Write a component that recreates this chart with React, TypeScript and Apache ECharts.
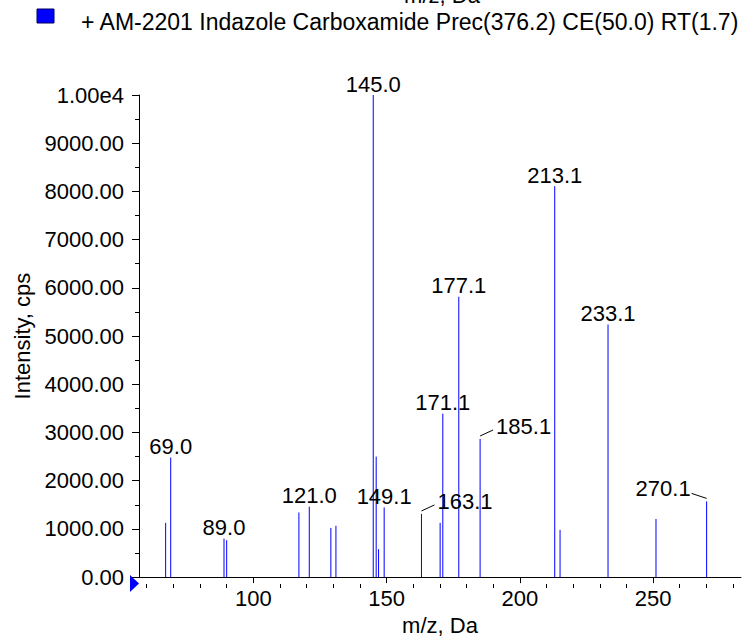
import React, { useEffect, useRef } from "react";
import * as echarts from "echarts";

// ---- data ----
const peakMz = [67.1, 69.0, 89.0, 90.0, 117.1, 121.0, 129.1, 131.0, 145.0, 146.1, 147.0, 149.1, 163.1, 170.1, 171.1, 177.1, 185.1, 213.1, 215.1, 233.1, 251.1, 270.1];
const peakIntensity = [1125, 2480, 800, 765, 1340, 1460, 1020, 1065, 10000, 2500, 580, 1445, 1310, 1125, 3390, 5815, 2865, 8110, 980, 5240, 1206, 1570];
const labeledPeaks = ["69.0", "89.0", "121.0", "145.0", "149.1", "163.1", "171.1", "177.1", "185.1", "213.1", "233.1", "270.1"];
const xLabelValues = [100, 150, 200, 250];
const xMinorTickValues = [60, 70, 80, 90, 110, 120, 130, 140, 160, 170, 180, 190, 210, 220, 230, 240, 260, 270, 280];
const yMax = 10000;
const legendText = "+ AM-2201 Indazole Carboxamide Prec(376.2) CE(50.0) RT(1.7)";
const xAxisTitle = "m/z, Da";
const yAxisTitle = "Intensity, cps";

// label placement style (not data)
const labelSide: Record<string, string> = { "163.1": "right", "185.1": "right", "270.1": "left" };

const FONT = "'Liberation Sans', Arial, Helvetica, sans-serif";
const BLUE = "#0000ff";

export default function App() {
  const ref = useRef<HTMLDivElement>(null);

  useEffect(() => {
    document.body.style.margin = "0";
    if (!ref.current) return;
    const chart = echarts.init(ref.current, undefined, { renderer: "svg" });

    const peakData = peakMz.map((m, i) => [m, peakIntensity[i]]);
    const labelData: number[][] = [];
    const labelTexts: string[] = [];
    labeledPeaks.forEach((t) => {
      const idx = peakMz.findIndex((m) => m.toFixed(1) === t);
      if (idx >= 0) {
        labelData.push([peakMz[idx], peakIntensity[idx]]);
        labelTexts.push(t);
      }
    });

    const grid = { left: 139, top: 95, right: 1, bottom: 57 };
    const xMin = 57.1;
    const xMax = 283;

    const option: any = {
      animation: false,
      grid: [grid, { ...grid }],
      xAxis: [
        {
          type: "value",
          gridIndex: 0,
          min: xMin,
          max: xMax,
          position: "bottom",
          axisLine: { show: true, lineStyle: { color: "#000", width: 1 } },
          axisTick: { show: true, customValues: xLabelValues, length: 6, lineStyle: { color: "#000" } },
          axisLabel: { customValues: xLabelValues, color: "#000", fontSize: 22, fontFamily: FONT, margin: 10 },
          splitLine: { show: false },
          name: xAxisTitle,
          nameLocation: "middle",
          nameGap: 31,
          nameTextStyle: { color: "#000", fontSize: 22, fontFamily: FONT },
        },
        {
          type: "value",
          gridIndex: 1,
          min: xMin,
          max: xMax,
          position: "bottom",
          axisLine: { show: false },
          axisTick: { show: true, customValues: xMinorTickValues, length: 4, lineStyle: { color: "#000" } },
          axisLabel: { show: false },
          splitLine: { show: false },
        },
      ],
      yAxis: [
        {
          type: "value",
          gridIndex: 0,
          min: 0,
          max: yMax,
          interval: 1000,
          axisLine: { show: true, lineStyle: { color: "#000", width: 1 } },
          axisTick: { show: true, length: 7, lineStyle: { color: "#000" } },
          minorTick: { show: true, splitNumber: 2, length: 4, lineStyle: { color: "#000" } },
          axisLabel: {
            color: "#000",
            fontSize: 22,
            fontFamily: FONT,
            margin: 15,
            formatter: (v: number) => (v === 10000 ? "1.00e4" : v.toFixed(2)),
          },
          splitLine: { show: false },
          name: yAxisTitle,
          nameLocation: "middle",
          nameGap: 103,
          nameTextStyle: { color: "#000", fontSize: 22, fontFamily: FONT },
        },
        {
          type: "value",
          gridIndex: 1,
          min: 0,
          max: yMax,
          show: false,
        },
      ],
      series: [
        {
          type: "custom",
          xAxisIndex: 0,
          yAxisIndex: 0,
          silent: true,
          data: peakData,
          renderItem: (params: any, api: any) => {
            const x = api.value(0);
            const y = api.value(1);
            const top = api.coord([x, y]);
            const base = api.coord([x, 0]);
            return {
              type: "line",
              shape: { x1: top[0], y1: top[1], x2: base[0], y2: base[1] },
              style: { stroke: BLUE, lineWidth: 1 },
            };
          },
        },
        {
          type: "custom",
          xAxisIndex: 0,
          yAxisIndex: 0,
          silent: true,
          data: labelData,
          renderItem: (params: any, api: any) => {
            const x = api.value(0);
            const y = api.value(1);
            const p = api.coord([x, y]);
            const text = labelTexts[params.dataIndex];
            const side = labelSide[text] || "top";
            const textStyle = { fontSize: 22, fontFamily: FONT, fill: "#000" };
            if (side === "right") {
              return {
                type: "group",
                children: [
                  { type: "line", shape: { x1: p[0], y1: p[1] - 3, x2: p[0] + 13, y2: p[1] - 9 }, style: { stroke: "#000", lineWidth: 1 } },
                  { type: "text", x: p[0] + 16, y: p[1] - 12, style: { ...textStyle, text, align: "left", verticalAlign: "middle" } },
                ],
              };
            }
            if (side === "left") {
              return {
                type: "group",
                children: [
                  { type: "line", shape: { x1: p[0], y1: p[1] - 3, x2: p[0] - 15, y2: p[1] - 8 }, style: { stroke: "#000", lineWidth: 1 } },
                  { type: "text", x: p[0] - 16, y: p[1] - 13, style: { ...textStyle, text, align: "right", verticalAlign: "middle" } },
                ],
              };
            }
            return {
              type: "text",
              x: p[0],
              y: p[1],
              style: { ...textStyle, text, align: "center", verticalAlign: "bottom" },
            };
          },
        },
      ],
      graphic: [
        {
          type: "text",
          x: 442,
          y: -5,
          silent: true,
          style: { text: xAxisTitle, fontSize: 22, fontFamily: FONT, fill: "#000", align: "center", verticalAlign: "middle" },
        },
        {
          type: "rect",
          x: 37,
          y: 9,
          silent: true,
          shape: { width: 17, height: 14 },
          style: { fill: BLUE, stroke: "#000060", lineWidth: 1 },
        },
        {
          type: "text",
          x: 81,
          y: 22,
          silent: true,
          style: { text: legendText, fontSize: 23, fontFamily: FONT, fill: "#000", align: "left", verticalAlign: "middle" },
        },
        {
          type: "polygon",
          silent: true,
          shape: { points: [[130, 575], [130, 592], [139, 583.5]] },
          style: { fill: BLUE },
        },
      ],
    };

    chart.setOption(option);
    return () => {
      chart.dispose();
    };
  }, []);

  return <div ref={ref} style={{ width: 742, height: 641 }} />;
}
